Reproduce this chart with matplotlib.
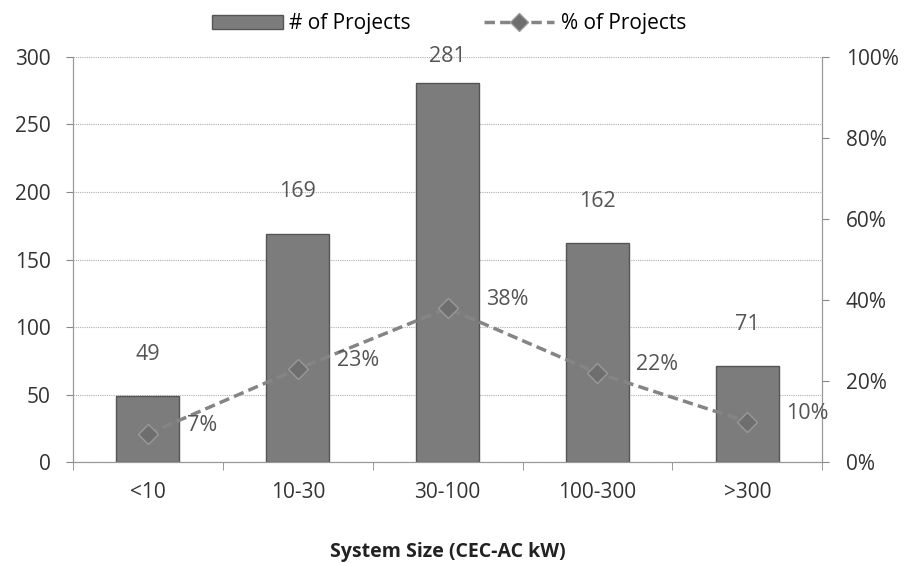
import matplotlib.pyplot as plt
import numpy as np
from matplotlib.lines import Line2D
from matplotlib.patches import Patch

plt.rcParams['font.family'] = ['Open Sans', 'DejaVu Sans']

categories = ['<10', '10-30', '30-100', '100-300', '>300']
projects = [49, 169, 281, 162, 71]
percent = [7, 23, 38, 22, 10]

bar_color = '#7c7c7c'
line_color = '#858585'
text_color = '#555555'

fig = plt.figure(figsize=(9.07, 5.63), dpi=100)
ax = fig.add_axes([0.0805, 0.179, 0.826, 0.72])
ax2 = ax.twinx()

x = np.arange(len(categories))
ax.bar(x, projects, width=0.42, color=bar_color, edgecolor='#555555',
       linewidth=1.0, zorder=2)
for xi, v in zip(x, projects):
    ax.text(xi, min(v + 31, 300), str(v), ha='center', va='center',
            fontsize=15.5, color=text_color)

ax.set_xlim(-0.5, len(categories) - 0.5)
ax.set_ylim(0, 300)
ax.set_yticks(range(0, 301, 50))
ax.yaxis.grid(True, color='#b0b0b0', linestyle=(0, (1, 1)), linewidth=0.8)
ax.set_axisbelow(True)
ax.set_xticks(x)
ax.set_xticklabels(categories)
ax.set_xticks(np.arange(-0.5, len(categories), 1), minor=True)
ax.tick_params(axis='x', which='major', length=0, pad=14, labelsize=15,
               labelcolor='#333333')
ax.tick_params(axis='x', which='minor', length=6, color='#888888')
ax.tick_params(axis='y', length=5, color='#888888', labelsize=15,
               labelcolor='#333333', pad=11)
ax.set_xlabel('System Size (CEC-AC kW)', fontsize=14, fontweight='bold',
              labelpad=28, color='#222222')

ax2.plot(x, percent, linestyle=(0, (3, 1.5)), linewidth=2.5, color=line_color,
         marker='D', markersize=10, markerfacecolor='#6e6e6e',
         markeredgecolor='#999999', zorder=3)
for xi, p in zip(x, percent):
    ax2.annotate(f'{p}%', (xi, p), xytext=(28, 6), textcoords='offset points',
                 ha='left', va='center', fontsize=15.5, color=text_color)
ax2.set_ylim(0, 100)
ax2.set_yticks(range(0, 101, 20))
ax2.set_yticklabels([f'{t}%' for t in range(0, 101, 20)])
ax2.tick_params(axis='y', length=5, color='#888888', labelsize=15,
                labelcolor='#333333', pad=12)

for a in (ax, ax2):
    a.spines['top'].set_visible(False)
    for s in ('left', 'right', 'bottom'):
        a.spines[s].set_color('#999999')

handles = [Patch(facecolor=bar_color, edgecolor='#555555'),
           Line2D([0], [0], linestyle=(0, (3, 1.5)), linewidth=2.5,
                  color=line_color, marker='D', markersize=9,
                  markerfacecolor='#6e6e6e', markeredgecolor='#999999')]
fig.legend(handles, ['# of Projects', '% of Projects'], loc='upper center',
           bbox_to_anchor=(0.495, 1.01), ncol=2, frameon=False, fontsize=15,
           handlelength=3.4, handleheight=0.7, columnspacing=3.5,
           handletextpad=0.3)

fig.savefig('out.png', dpi=100)
